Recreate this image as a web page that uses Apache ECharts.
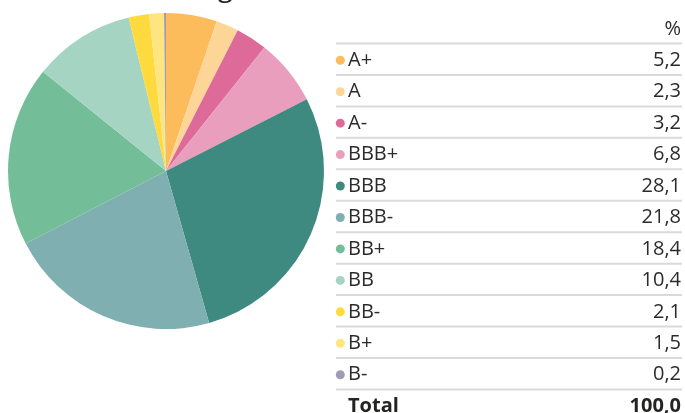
<!DOCTYPE html>
<html>
<head>
<meta charset="utf-8">
<script src="https://cdn.jsdelivr.net/npm/echarts@6/dist/echarts.min.js"></script>
<style>
html,body{margin:0;padding:0;background:#fff;}
#c{width:685px;height:413px;}
</style>
</head>
<body>
<div id="c"></div>
<script>
var categories = ['A+', 'A', 'A-', 'BBB+', 'BBB', 'BBB-', 'BB+', 'BB', 'BB-', 'B+', 'B-'];
var values = [5.2, 2.3, 3.2, 6.8, 28.1, 21.8, 18.4, 10.4, 2.1, 1.5, 0.2];
var colors = ['#FDBC5C', '#FDD596', '#DD6A98', '#E99EBD', '#3E8980', '#7FAFB1', '#73BE99', '#A5D4C3', '#FFDA3F', '#FFE57F', '#A09CB4'];
var headerLabel = '%';
var totalLabel = 'Total';
var titleText = 'Rating';

function fmt(v) { return v.toFixed(1).replace('.', ','); }
var total = values.reduce(function (a, b) { return a + b; }, 0);

var FONT = '"Open Sans", "Noto Sans", sans-serif';
var FS = 20;
var tableLeft = 336, tableRight = 682;
var firstLine = 43.5, rowH = 31.45;
var textColor = '#2b2b2b';

var graphics = [];
for (var i = 0; i <= categories.length; i++) {
  var y = firstLine + rowH * i;
  graphics.push({
    type: 'line', silent: true,
    shape: { x1: tableLeft, y1: y, x2: tableRight, y2: y },
    style: { stroke: '#dadada', lineWidth: 2 }
  });
}
categories.forEach(function (c, i) {
  var cy = firstLine + rowH * (i + 0.5) + 1;
  graphics.push({
    type: 'circle', silent: true,
    shape: { cx: 340.3, cy: cy, r: 4.5 },
    style: { fill: colors[i] }
  });
  graphics.push({
    type: 'text', silent: true,
    style: { text: c, x: 348, y: cy, align: 'left', verticalAlign: 'middle',
             font: FS + 'px ' + FONT, fill: textColor }
  });
  graphics.push({
    type: 'text', silent: true,
    style: { text: fmt(values[i]), x: 681, y: cy, align: 'right', verticalAlign: 'middle',
             font: FS + 'px ' + FONT, fill: textColor }
  });
});
graphics.push({
  type: 'text', silent: true,
  style: { text: headerLabel, x: 681, y: 29, align: 'right', verticalAlign: 'middle',
           font: FS + 'px ' + FONT, fill: textColor }
});
var totalY = firstLine + rowH * categories.length + 17;
graphics.push({
  type: 'text', silent: true,
  style: { text: totalLabel, x: 348, y: totalY, align: 'left', verticalAlign: 'middle',
           font: 'bold ' + FS + 'px ' + FONT, fill: '#252423' }
});
graphics.push({
  type: 'text', silent: true,
  style: { text: fmt(total), x: 681, y: totalY, align: 'right', verticalAlign: 'middle',
           font: 'bold ' + FS + 'px ' + FONT, fill: '#252423' }
});
graphics.push({
  type: 'text', silent: true,
  style: { text: titleText, x: 233, y: -12, align: 'right', verticalAlign: 'middle',
           font: '28px ' + FONT, fill: '#252423' }
});

var chart = echarts.init(document.getElementById('c'), null, { renderer: 'canvas' });
chart.setOption({
  animation: false,
  color: colors,
  series: [{
    type: 'pie',
    center: [166, 171],
    radius: [0, 158],
    startAngle: 90,
    clockwise: true,
    label: { show: false },
    labelLine: { show: false },
    emphasis: { disabled: true },
    itemStyle: { borderWidth: 0 },
    data: categories.map(function (c, i) { return { name: c, value: values[i] }; })
  }],
  graphic: graphics
});
</script>
</body>
</html>
